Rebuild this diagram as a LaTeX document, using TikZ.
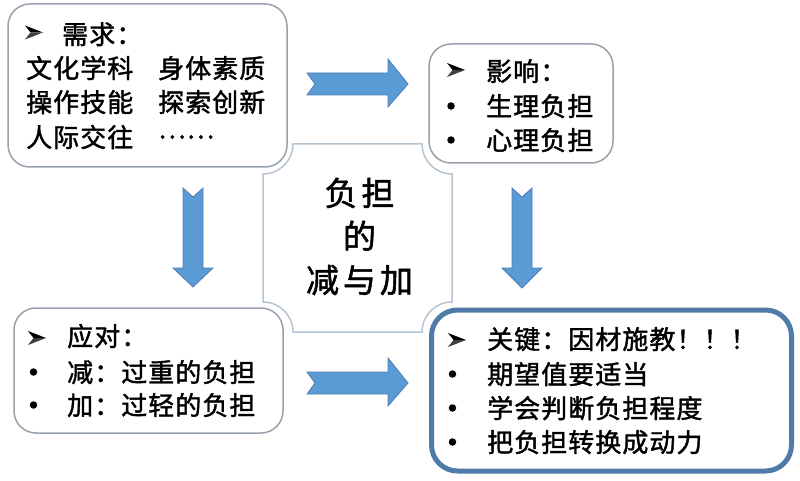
\documentclass[tikz,border=0pt]{standalone}
\usepackage{fontspec}
\setmainfont{Noto Sans CJK SC}
\newfontfamily\txtfont[LetterSpace=4,FakeBold=1.5]{Noto Sans CJK SC}
\newfontfamily\bigfont[LetterSpace=12,FakeBold=1.5]{Noto Sans CJK SC}
\definecolor{boxgray}{HTML}{98A2AD}
\definecolor{plaquegray}{HTML}{B6C4D4}
\definecolor{keyblue}{HTML}{4F7BA8}
\definecolor{arrowblue}{HTML}{5B9BD5}
\definecolor{arrowedge}{HTML}{4A7EB5}
\tikzset{
  box/.style={draw=boxgray, line width=1.5pt, rounded corners=22pt, fill=white, inner sep=0pt},
  keybox/.style={draw=keyblue, line width=5pt, rounded corners=26pt, fill=white, inner sep=0pt},
  txt/.style={anchor=base west, inner sep=0pt, font=\txtfont\fontsize{26pt}{30pt}\selectfont},
  bigtxt/.style={anchor=base, inner sep=0pt, font=\bigfont\fontsize{33pt}{38pt}\selectfont},
  bul/.style={circle, fill=black, inner sep=0pt, minimum size=7.5pt},
  blockarrow/.style={fill=arrowblue, draw=arrowedge, line width=0.8pt},
  plaque/.style={draw=plaquegray, line width=1.5pt, fill=white},
  hdarrow/.pic={
    \fill[black] (-9,-7) -- (9,0) -- (-3.5,0) -- cycle;
    \fill[black!75] (-9,7) -- (9,0) -- (-3.5,0) -- cycle;
  },
}
\begin{document}
\begin{tikzpicture}[x=1pt,y=-1pt]
\useasboundingbox (0,0) rectangle (800,481);
\fill[white] (0,0) rectangle (800,481);
% central plaque with concave corners
\draw[plaque] (293,144) -- (422,144)
  .. controls (422,160.6) and (435.4,174) .. (452,174)
  -- (452,302)
  .. controls (435.4,302) and (422,315.4) .. (422,332)
  -- (293,332)
  .. controls (293,315.4) and (279.6,302) .. (263,302)
  -- (263,174)
  .. controls (279.6,174) and (293,160.6) .. cycle;
% boxes
\node[box, minimum width=279pt, minimum height=163pt] (need) at (147.5,85.5) {};
\node[box, minimum width=184pt, minimum height=119pt] (effect) at (521,103.5) {};
\node[box, minimum width=269pt, minimum height=125pt] (cope) at (148.5,370.5) {};
\node[keybox, minimum width=360pt, minimum height=161pt] (key) at (611.5,390.5) {};
% block arrows
\draw[blockarrow] (307,73) -- (388,73) -- (388,59) -- (408,84) -- (388,107) -- (388,95) -- (307,95) -- (315,84) -- cycle;
\draw[blockarrow] (307,372) -- (388,372) -- (388,358) -- (408,383) -- (388,406) -- (388,394) -- (307,394) -- (315,383) -- cycle;
\draw[blockarrow] (183,188) -- (193,197) -- (203,188) -- (203,268) -- (213,268) -- (193,287) -- (173,268) -- (183,268) -- cycle;
\draw[blockarrow] (512,188) -- (522,197) -- (532,188) -- (532,268) -- (542,268) -- (522,288) -- (502,268) -- (512,268) -- cycle;
% centre text
\node[bigtxt] (c1) at (359.5,205.5) {负担};
\node[bigtxt] (c2) at (359.5,248.5) {的};
\node[bigtxt] (c3) at (359.5,292.5) {减与加};
% top-left
\pic at (34,32.5) {hdarrow};
\node[txt] (nh) at (62,44) {需求：};
\node[txt] (n1) at (26,78) {\makebox[132pt][l]{文化学科}身体素质};
\node[txt] (n2) at (26,112) {\makebox[132pt][l]{操作技能}探索创新};
\node[txt] (n3) at (26,147) {\makebox[132pt][l]{人际交往}\raisebox{8.5pt}{……}};
% top-right
\pic at (456,70) {hdarrow};
\node[txt] (eh) at (486,81) {影响：};
\node[bul] (eb1) at (451,106) {};
\node[bul] (eb2) at (451,140) {};
\node[txt] (e1) at (486,116) {生理负担};
\node[txt] (e2) at (486,150) {心理负担};
% bottom-left
\pic at (37,338) {hdarrow};
\node[txt] (ch) at (67,346) {应对：};
\node[bul] (cb1) at (33.5,372) {};
\node[bul] (cb2) at (33.5,405) {};
\node[txt] (c4) at (67,382) {减：过重的负担};
\node[txt] (c5) at (67,415) {加：过轻的负担};
% bottom-right
\pic at (457,340) {hdarrow};
\node[txt] (kh) at (487,349) {关键：因材施教！！！};
\node[bul] (kb1) at (452.5,374) {};
\node[bul] (kb2) at (452.5,408) {};
\node[bul] (kb3) at (452.5,442) {};
\node[txt] (k1) at (487,384) {期望值要适当};
\node[txt] (k2) at (487,418) {学会判断负担程度};
\node[txt] (k3) at (487,452) {把负担转换成动力};
\end{tikzpicture}
\end{document}
